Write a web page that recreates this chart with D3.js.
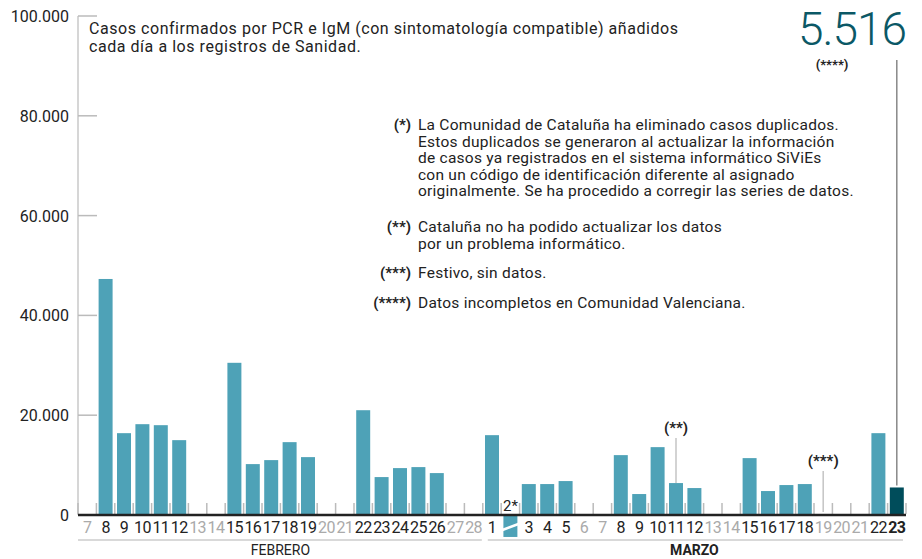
<!DOCTYPE html>
<html>
<head>
<meta charset="utf-8">
<script src="https://cdn.jsdelivr.net/npm/d3@7"></script>
<style>
  body { margin: 0; background: #fff; }
  svg text { font-family: Roboto, "Noto Sans", sans-serif; fill: #222; }
</style>
</head>
<body>
<div id="chart"></div>
<script>
// datos: casos nuevos por día (feb 7 - mar 23)
const dias = ["7","8","9","10","11","12","13","14","15","16","17","18","19","20","21","22","23","24","25","26","27","28",
  "1","2","3","4","5","6","7","8","9","10","11","12","13","14","15","16","17","18","19","20","21","22","23"];
const casos = [null, 47300, 16400, 18200, 18000, 15000, null, null, 30500, 10200, 11000, 14600, 11600, null, null,
  21000, 7600, 9400, 9600, 8400, null, null,
  16000, -4400, 6200, 6200, 6800, null, null, 12000, 4200, 13600, 6400, 5400, null, null,
  11400, 4800, 6000, 6200, null, null, null, 16400, 5516];
const yTicks = [0, 20000, 40000, 60000, 80000, 100000];
const meses = ["FEBRERO", "MARZO"];
const mesInicio = [0, 22];
const mesFin = [21, 44];
const titulo = ["Casos confirmados por PCR e IgM (con sintomatología compatible) añadidos",
  "cada día a los registros de Sanidad."];
const notas = [
  ["(*)", ["La Comunidad de Cataluña ha eliminado casos duplicados.",
    "Estos duplicados se generaron al actualizar la información",
    "de casos ya registrados en el sistema informático SiViEs",
    "con un código de identificación diferente al asignado",
    "originalmente. Se ha procedido a corregir las series de datos."]],
  ["(**)", ["Cataluña no ha podido actualizar los datos", "por un problema informático."]],
  ["(***)", ["Festivo, sin datos."]],
  ["(****)", ["Datos incompletos en Comunidad Valenciana."]]
];
const notaY = [130, 232, 278, 308];

const fmt = d3.formatLocale({decimal: ",", thousands: ".", grouping: [3]}).format(",");

let svg = d3.select("#chart").append("svg")
  .attr("width", 922).attr("height", 559);

let x = d3.scaleBand()
  .domain(d3.range(dias.length))
  .range([78, 906])
  .paddingInner(0.24)
  .paddingOuter(0.12);
let step = x.step();

let y = d3.scaleLinear().domain([0, 100000]).range([515, 16]);

// eje y
svg.append("line")
  .attr("x1", 78).attr("x2", 78)
  .attr("y1", y(100000)).attr("y2", y(0))
  .attr("stroke", "#c8c8c8").attr("stroke-width", 1.5);

svg.selectAll(".ytick").data(yTicks).enter().append("line")
  .attr("x1", 78).attr("x2", 97)
  .attr("y1", d => y(d)).attr("y2", d => y(d))
  .attr("stroke", "#bbb").attr("stroke-width", 1.5);

svg.selectAll(".ylab").data(yTicks).enter().append("text")
  .attr("x", 69).attr("y", d => y(d) + 6)
  .attr("text-anchor", "end")
  .style("font-size", "16px")
  .text(d => fmt(d));

// marcas entre días
svg.selectAll(".xtick").data(d3.range(dias.length + 1)).enter().append("line")
  .attr("x1", d => 78 + d * step).attr("x2", d => 78 + d * step)
  .attr("y1", 503).attr("y2", 514)
  .attr("stroke", "#bbb").attr("stroke-width", 1.5);

// barras
let conDato = d3.range(dias.length).filter(i => casos[i] != null);
svg.selectAll(".bar").data(conDato).enter().append("rect")
  .attr("x", i => x(i))
  .attr("width", x.bandwidth())
  .attr("y", i => y(Math.max(0, casos[i])))
  .attr("height", i => Math.abs(y(casos[i]) - y(0)))
  .attr("fill", i => i == dias.length - 1 ? "#004d5b" : "#4ea2b7");

// corte en la barra negativa (2 de marzo)
let neg = conDato.filter(i => casos[i] < 0);
svg.selectAll(".corte").data(neg).enter().append("line")
  .attr("x1", i => x(i) - 1).attr("x2", i => x(i) + x.bandwidth() + 1)
  .attr("y1", 530).attr("y2", 524)
  .attr("stroke", "#fff").attr("stroke-width", 2.5);

// línea base
svg.append("line")
  .attr("x1", 78).attr("x2", 906)
  .attr("y1", y(0)).attr("y2", y(0))
  .attr("stroke", "#222").attr("stroke-width", 2.5);

// etiquetas de días
svg.selectAll(".xlab").data(d3.range(dias.length).filter(i => casos[i] == null || casos[i] >= 0)).enter().append("text")
  .attr("x", i => x(i) + x.bandwidth() / 2)
  .attr("y", 533)
  .attr("text-anchor", "middle")
  .style("font-size", "16px")
  .style("letter-spacing", "-0.6px")
  .style("font-weight", i => i == dias.length - 1 ? "700" : "400")
  .style("fill", i => casos[i] == null ? "#aaa" : "#222")
  .text(i => dias[i]);

svg.selectAll(".neglab").data(neg).enter().append("text")
  .attr("x", i => x(i) + x.bandwidth() / 2)
  .attr("y", 511)
  .attr("text-anchor", "middle")
  .style("font-size", "15px")
  .text(i => dias[i] + "*");

// meses
meses.forEach((m, k) => {
  svg.append("line")
    .attr("x1", 78 + mesInicio[k] * step + (k ? 5 : 0))
    .attr("x2", 78 + (mesFin[k] + 1) * step - (k ? 3 : 1))
    .attr("y1", 540).attr("y2", 540)
    .attr("stroke", "#ccc").attr("stroke-width", 1.5);
  svg.append("text")
    .attr("x", 78 + (mesInicio[k] + mesFin[k] + 1) / 2 * step)
    .attr("y", 555)
    .attr("text-anchor", "middle")
    .style("font-size", "14px")
    .style("font-weight", k ? "700" : "400")
    .text(m);
});

// título
svg.append("text")
  .attr("x", 89).attr("y", 34)
  .style("font-size", "16px")
  .style("letter-spacing", "0.55px")
  .selectAll("tspan").data(titulo).enter().append("tspan")
  .attr("x", 89).attr("dy", (d, i) => i ? 18 : 0)
  .text(d => d);

// notas
notas.forEach((n, k) => {
  svg.append("text")
    .attr("x", 411).attr("y", notaY[k])
    .attr("text-anchor", "end")
    .style("font-size", "15px").style("font-weight", "700")
    .text(n[0]);
  svg.append("text")
    .attr("y", notaY[k])
    .style("font-size", "15.5px")
    .style("letter-spacing", "0.25px")
    .selectAll("tspan").data(n[1]).enter().append("tspan")
    .attr("x", 418).attr("dy", (d, i) => i ? 16.6 : 0)
    .text(d => d);
});

// llamadas sobre barras
function llamada(i, texto, yTexto, yFin) {
  svg.append("text")
    .attr("x", x(i) + x.bandwidth() / 2).attr("y", yTexto)
    .attr("text-anchor", "middle")
    .style("font-size", "15px").style("font-weight", "700")
    .text(texto);
  svg.append("line")
    .attr("x1", x(i) + x.bandwidth() / 2).attr("x2", x(i) + x.bandwidth() / 2)
    .attr("y1", yTexto + 5).attr("y2", yFin)
    .attr("stroke", "#c4c4c4").attr("stroke-width", 1.5);
}
llamada(32, "(**)", 433, y(casos[32]));
llamada(40, "(***)", 466, 512);

// último dato
let ult = dias.length - 1;
svg.append("line")
  .attr("x1", x(ult) + x.bandwidth() / 2).attr("x2", x(ult) + x.bandwidth() / 2)
  .attr("y1", 60).attr("y2", y(casos[ult]) - 2)
  .attr("stroke", "#888").attr("stroke-width", 1.5);
svg.append("text")
  .attr("x", 906).attr("y", 45)
  .attr("text-anchor", "end")
  .style("font-size", "46px")
  .style("font-weight", "300")
  .style("letter-spacing", "-1px")
  .style("fill", "#0b5866")
  .text(fmt(casos[ult]));
svg.append("text")
  .attr("x", 832).attr("y", 69)
  .attr("text-anchor", "middle")
  .style("font-size", "13px").style("font-weight", "700")
  .text("(****)");
</script>
</body>
</html>
